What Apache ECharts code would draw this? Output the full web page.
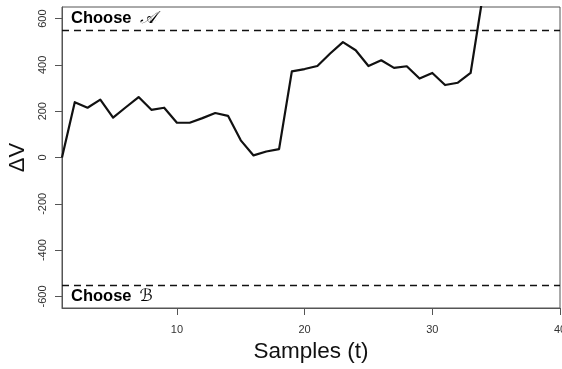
<!DOCTYPE html>
<html>
<head>
<meta charset="utf-8">
<script src="https://cdn.jsdelivr.net/npm/echarts@6/dist/echarts.min.js"></script>
<style>
  html, body { margin: 0; padding: 0; background: #fff; }
  #chart { width: 562px; height: 369px; }
</style>
</head>
<body>
<div id="chart"></div>
<script>
// Accumulated evidence difference ΔV over successive samples
const samples = [1, 2, 3, 4, 5, 6, 7, 8, 9, 10, 11, 12, 13, 14, 15, 16, 17,
  18, 19, 20, 21, 22, 23, 24, 25, 26, 27, 28, 29, 30, 31, 32, 33, 34];
const deltaV = [0, 239, 215, 250, 172, 217, 261, 206, 215, 150, 150, 170, 192,
  180, 74, 9, 26, 36, 372, 382, 395, 449, 498, 463, 395, 420, 387, 394, 341,
  365, 313, 323, 365, 714];
// Decision thresholds
const thresholdA = 550;
const thresholdB = -550;
const xTicks = [10, 20, 30, 40];
const yTicks = [-600, -400, -200, 0, 200, 400, 600];

const FONT = '"Liberation Sans", Arial, Helvetica, sans-serif';
const AXIS_GREY = '#555';

const chart = echarts.init(document.getElementById('chart'), null, { renderer: 'canvas' });

const thresholdLabel = (letter, position) => ({
  position: position, distance: [9, 3],
  formatter: '{b|Choose}{s|' + letter + '}',
  rich: {
    b: { fontFamily: FONT, fontWeight: 'bold', fontSize: 16.5, color: '#000' },
    s: { fontFamily: '"DejaVu Serif", "DejaVu Sans", serif', fontStyle: 'italic', fontSize: 17, color: '#000', padding: [0, 0, 0, 8] }
  }
});

chart.setOption({
  animation: false,
  grid: {
    left: 62, right: 2, top: 7, bottom: 61,
    outerBoundsMode: 'none', containLabel: false,
    show: true, borderColor: AXIS_GREY, borderWidth: 1, backgroundColor: 'transparent'
  },
  xAxis: {
    type: 'value', min: 1, max: 40,
    name: 'Samples (t)', nameLocation: 'middle', nameGap: 31,
    nameTextStyle: { fontFamily: FONT, fontSize: 22.5, color: '#111' },
    axisLine: { show: true, onZero: false, lineStyle: { color: AXIS_GREY, width: 1 } },
    axisTick: { show: true, length: 7, customValues: xTicks, lineStyle: { color: AXIS_GREY } },
    axisLabel: { customValues: xTicks, margin: 16, fontFamily: FONT, fontSize: 11, color: '#333' },
    splitLine: { show: false }
  },
  yAxis: {
    type: 'value', min: -650, max: 650,
    name: 'ΔV', nameLocation: 'middle', nameGap: 31, nameRotate: 90,
    nameTextStyle: { fontFamily: FONT, fontSize: 22, color: '#111' },
    axisLine: { show: true, onZero: false, lineStyle: { color: AXIS_GREY, width: 1 } },
    axisTick: { show: true, length: 7, customValues: yTicks, lineStyle: { color: AXIS_GREY } },
    axisLabel: { customValues: yTicks, rotate: 90, margin: 14, fontFamily: FONT, fontSize: 11, color: '#333' },
    splitLine: { show: false }
  },
  series: [{
    type: 'line',
    data: samples.map((s, i) => [s, deltaV[i]]),
    showSymbol: false,
    clip: true,
    lineStyle: { color: '#111', width: 2.2, join: 'round' },
    markLine: {
      silent: true,
      symbol: ['none', 'none'],
      lineStyle: { color: '#111', width: 1.4, type: [7, 5] },
      data: [
        { yAxis: thresholdA, label: thresholdLabel('𝒜', 'insideStartTop') },
        { yAxis: thresholdB, label: thresholdLabel('ℬ', 'insideStartBottom') }
      ]
    }
  }]
});
</script>
</body>
</html>
